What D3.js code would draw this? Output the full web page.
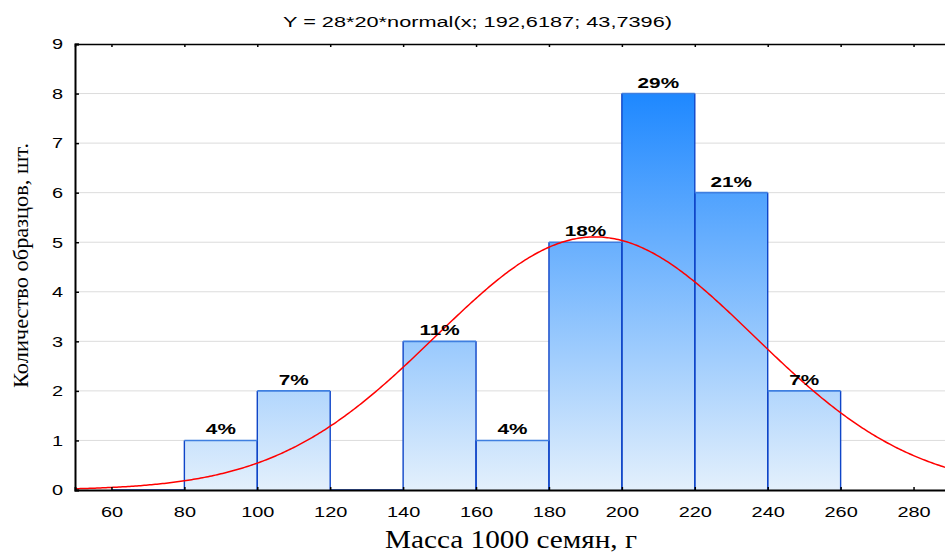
<!DOCTYPE html>
<html>
<head>
<meta charset="utf-8">
<script src="https://cdn.jsdelivr.net/npm/d3@7"></script>
<style>
  body { margin: 0; background: #fff; }
  svg { display: block; overflow: hidden; }
</style>
</head>
<body>
<svg id="chart" width="945" height="552"></svg>
<script>
// Histogram bins (left edges, width 20 g) and sample counts
const binStarts = [60, 80, 100, 120, 140, 160, 180, 200, 220, 240];
const counts    = [0, 1, 2, 0, 3, 1, 5, 8, 6, 2];
const binWidth  = 20;

// Axis ticks
const xTicks = [60, 80, 100, 120, 140, 160, 180, 200, 220, 240, 260, 280];
const yTicks = [0, 1, 2, 3, 4, 5, 6, 7, 8, 9];

// Fitted normal curve parameters
const sampleSize = 28;
const fitMean = 192.6187;
const fitSd = 43.7396;

// Texts
const titleText = "Y = 28*20*normal(x; 192,6187; 43,7396)";
const xLabelText = "Масса 1000 семян, г";
const yLabelText = "Количество образцов, шт.";

const svg = d3.select("#chart");
const plot = { left: 75, right: 950, top: 44, bottom: 490 };

const x = d3.scaleLinear().domain([50, 290]).range([plot.left, plot.right]);
const y = d3.scaleLinear().domain([0, 9]).range([plot.bottom, plot.top]);

const defs = svg.append("defs");
defs.append("clipPath").attr("id", "plotClip")
  .append("rect")
  .attr("x", plot.left).attr("y", plot.top - 1)
  .attr("width", plot.right - plot.left).attr("height", plot.bottom - plot.top + 1);

const grad = defs.append("linearGradient")
  .attr("id", "barFill")
  .attr("gradientUnits", "userSpaceOnUse")
  .attr("x1", 0).attr("x2", 0)
  .attr("y1", y(8)).attr("y2", y(0));
grad.append("stop").attr("offset", 0).attr("stop-color", "#1E88FF");
grad.append("stop").attr("offset", 1).attr("stop-color", "#E3F0FC");

// Horizontal grid lines
svg.append("g")
  .selectAll("line")
  .data(yTicks.filter(d => d > 0 && d < 9))
  .join("line")
  .attr("x1", plot.left).attr("x2", plot.right)
  .attr("y1", d => y(d)).attr("y2", d => y(d))
  .attr("stroke", "#dcdcdc")
  .attr("stroke-width", 1);

// Bars
const bins = binStarts.map((s, i) => ({ x0: s, x1: s + binWidth, n: counts[i] }));
const total = d3.sum(counts);
const barG = svg.append("g").attr("clip-path", "url(#plotClip)");

barG.selectAll("rect")
  .data(bins.filter(b => b.n > 0))
  .join("rect")
  .attr("x", b => x(b.x0))
  .attr("y", b => y(b.n))
  .attr("width", b => x(b.x1) - x(b.x0))
  .attr("height", b => y(0) - y(b.n))
  .attr("fill", "url(#barFill)");

// Bar outlines: darker sides, lighter top edge
barG.selectAll("path.side")
  .data(bins)
  .join("path")
  .attr("class", "side")
  .attr("d", b => `M${x(b.x0)},${y(0)}V${y(b.n)}M${x(b.x1)},${y(0)}V${y(b.n)}`)
  .attr("fill", "none")
  .attr("stroke", "#0F45C8")
  .attr("stroke-width", 1.4);

barG.selectAll("path.top")
  .data(bins)
  .join("path")
  .attr("class", "top")
  .attr("d", b => `M${x(b.x0)},${y(b.n)}H${x(b.x1)}`)
  .attr("fill", "none")
  .attr("stroke", b => b.n === 0 ? "#0F45C8" : "#3F7FE0")
  .attr("stroke-width", 1.6);

// Fitted normal curve
const curveXs = d3.range(50, 290.5, 0.5);
const normalY = v => sampleSize * binWidth *
  Math.exp(-0.5 * Math.pow((v - fitMean) / fitSd, 2)) / (fitSd * Math.sqrt(2 * Math.PI));
svg.append("path")
  .datum(curveXs)
  .attr("clip-path", "url(#plotClip)")
  .attr("d", d3.line().x(v => x(v)).y(v => y(normalY(v))))
  .attr("fill", "none")
  .attr("stroke", "#FF0000")
  .attr("stroke-width", 1.5);

// Percentage labels above bars
svg.append("g")
  .selectAll("text")
  .data(bins.filter(b => b.n > 0))
  .join("text")
  .attr("transform", b => `translate(${x((b.x0 + b.x1) / 2)},${y(b.n) - 6}) scale(1.48,1)`)
  .attr("text-anchor", "middle")
  .attr("font-family", "Liberation Sans, Arial, sans-serif")
  .attr("font-size", 14)
  .attr("font-weight", "bold")
  .attr("fill", "#000")
  .text(b => Math.round(b.n / total * 100) + "%");

// Axes
const fontTick = "Liberation Sans, Arial, sans-serif";

const xAxisB = svg.append("g")
  .attr("transform", `translate(0,${plot.bottom})`)
  .call(d3.axisBottom(x).tickValues(xTicks).tickSize(-3).tickPadding(16).tickFormat(d3.format("d")));
const xAxisT = svg.append("g")
  .attr("transform", `translate(0,${plot.top})`)
  .call(d3.axisTop(x).tickValues(xTicks).tickSize(-3).tickFormat(""));
const yAxisL = svg.append("g")
  .attr("transform", `translate(${plot.left},0)`)
  .call(d3.axisLeft(y).tickValues(yTicks).tickSize(-4).tickPadding(15).tickFormat(d3.format("d")));

[xAxisB, xAxisT, yAxisL].forEach(g => {
  g.select(".domain").attr("stroke", "#000").attr("stroke-width", 2);
  g.selectAll(".tick line").attr("stroke", "#000").attr("stroke-width", 1.5);
  g.selectAll(".tick text")
    .attr("font-family", fontTick)
    .attr("font-size", 15)
    .attr("fill", "#000");
});
xAxisT.select(".domain").attr("stroke-width", 1.5);
xAxisB.selectAll(".tick text").attr("transform", "scale(1.33,1)");
yAxisL.selectAll(".tick text")
  .attr("x", 0)
  .attr("transform", "translate(-12,0) scale(1.33,1)");

// Title
svg.append("text")
  .attr("x", 283).attr("y", 27)
  .attr("font-family", fontTick)
  .attr("font-size", 14)
  .attr("textLength", 389)
  .attr("lengthAdjust", "spacingAndGlyphs")
  .attr("fill", "#000")
  .text(titleText);

// Axis titles
svg.append("text")
  .attr("x", 385).attr("y", 548)
  .attr("font-family", "Liberation Serif, Times New Roman, serif")
  .attr("font-size", 25)
  .attr("textLength", 252)
  .attr("lengthAdjust", "spacingAndGlyphs")
  .attr("fill", "#000")
  .text(xLabelText);

svg.append("text")
  .attr("transform", "translate(28,388) rotate(-90)")
  .attr("font-family", "Liberation Serif, Times New Roman, serif")
  .attr("font-size", 21)
  .attr("textLength", 245)
  .attr("lengthAdjust", "spacingAndGlyphs")
  .attr("fill", "#000")
  .text(yLabelText);
</script>
</body>
</html>
